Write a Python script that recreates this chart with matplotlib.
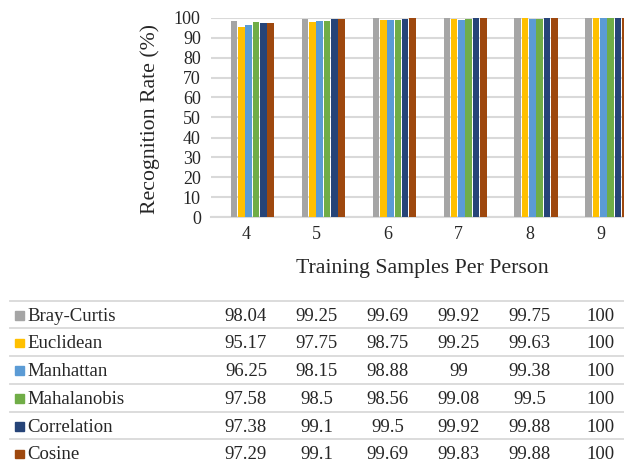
import numpy as np
import matplotlib
matplotlib.use('Agg')
import matplotlib.pyplot as plt
from matplotlib.lines import Line2D
from matplotlib.patches import Rectangle

plt.rcParams['font.family'] = ['Liberation Serif', 'DejaVu Serif']

# data
samples = ['4', '5', '6', '7', '8', '9']
methods = ['Bray-Curtis', 'Euclidean', 'Manhattan', 'Mahalanobis', 'Correlation', 'Cosine']
bray_curtis = [98.04, 99.25, 99.69, 99.92, 99.75, 100]
euclidean = [95.17, 97.75, 98.75, 99.25, 99.63, 100]
manhattan = [96.25, 98.15, 98.88, 99, 99.38, 100]
mahalanobis = [97.58, 98.5, 98.56, 99.08, 99.5, 100]
correlation = [97.38, 99.1, 99.5, 99.92, 99.88, 100]
cosine = [97.29, 99.1, 99.69, 99.83, 99.88, 100]
series = [bray_curtis, euclidean, manhattan, mahalanobis, correlation, cosine]
colors = ['#A5A5A5', '#FFC000', '#5B9BD5', '#70AD47', '#264478', '#9E480E']

W, H = 624, 462
txt = '#262626'
grid = '#d9d9d9'

def fx(px):
    return px / W

def fy(py):
    return 1 - py / H

fig = plt.figure(figsize=(6.24, 4.62), dpi=100)

# plot area runs past the right edge, like the cropped original
left, right = 210.5, 210.5 + 6 * 70.9
top, bottom = 17.5, 217.5
ax = fig.add_axes([fx(left), fy(bottom), (right - left) / W, (bottom - top) / H])

x = np.arange(len(samples))
step = 7.3 / 70.9
bw = 6.6 / 70.9
off0 = -11.8 / 70.9
for i, vals in enumerate(series):
    ax.bar(x + off0 + i * step, vals, width=bw, color=colors[i], zorder=3)

ax.set_xlim(-0.5, 5.5)
ax.set_ylim(0, 100)
ax.set_yticks(range(0, 101, 10))
ax.set_xticks(x)
ax.set_xticklabels(samples)
ax.yaxis.grid(True, color=grid, linewidth=1.5, zorder=0)
ax.tick_params(axis='both', length=0, labelsize=13, labelcolor=txt)
ax.tick_params(axis='y', pad=7)
ax.tick_params(axis='x', pad=6)
for s in ['top', 'right', 'left']:
    ax.spines[s].set_visible(False)
ax.spines['bottom'].set_color(grid)
ax.spines['bottom'].set_linewidth(1.5)
ax.set_facecolor('none')

fig.text(fx(150), fy(119), 'Recognition Rate (%)', rotation=90, ha='center', va='center',
         fontsize=15.7, color=txt)
fig.text(fx(422), fy(272.5), 'Training Samples Per Person', ha='center', va='baseline',
         fontsize=15.7, color=txt)

# data table below the chart
row_h = 27.7
row0 = 300.7
centers = [left + 70.9 * (i + 0.5) for i in range(len(samples))]
for r in range(len(methods) + 1):
    y = row0 + r * row_h
    fig.add_artist(Line2D([fx(10), 1], [fy(y), fy(y)], transform=fig.transFigure,
                          color=grid, linewidth=1.3))
for r, (name, vals) in enumerate(zip(methods, series)):
    y = row0 + r * row_h
    fig.add_artist(Rectangle((fx(15.3), fy(y + 19)), 8.7 / W, 8.7 / H,
                             transform=fig.transFigure, color=colors[r]))
    fig.text(fx(27), fy(y + 20), name, ha='left', va='baseline', fontsize=13.5, color=txt)
    for cx, v in zip(centers, vals):
        fig.text(fx(cx), fy(y + 20), '{:g}'.format(v), ha='center', va='baseline',
                 fontsize=13.5, color=txt)

fig.savefig('out.png', dpi=100)
